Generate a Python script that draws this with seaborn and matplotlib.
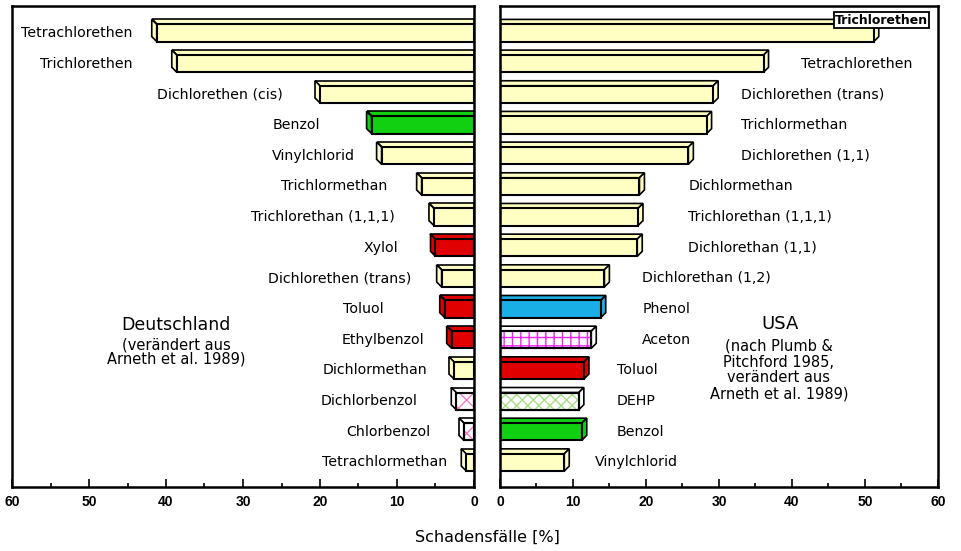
import matplotlib
matplotlib.use("Agg")
import matplotlib.pyplot as plt
from matplotlib.patches import Polygon, Rectangle
from matplotlib.transforms import IdentityTransform
from matplotlib.ticker import MultipleLocator
import seaborn as sns
import pandas as pd

# ---------------- data ----------------
names_de = ["Tetrachlorethen", "Trichlorethen", "Dichlorethen (cis)", "Benzol",
            "Vinylchlorid", "Trichlormethan", "Trichlorethan (1,1,1)", "Xylol",
            "Dichlorethen (trans)", "Toluol", "Ethylbenzol", "Dichlormethan",
            "Dichlorbenzol", "Chlorbenzol", "Tetrachlormethan"]
values_de = [41.2, 38.6, 20.0, 13.3, 12.0, 6.8, 5.2, 5.0, 4.2, 3.8, 2.9, 2.6, 2.3, 1.3, 1.0]
kind_de = ["plain", "plain", "plain", "green", "plain", "plain", "plain", "red",
           "plain", "red", "red", "plain", "pink", "pink", "plain"]

names_us = ["Trichlorethen", "Tetrachlorethen", "Dichlorethen (trans)", "Trichlormethan",
            "Dichlorethen (1,1)", "Dichlormethan", "Trichlorethan (1,1,1)", "Dichlorethan (1,1)",
            "Dichlorethan (1,2)", "Phenol", "Aceton", "Toluol", "DEHP", "Benzol", "Vinylchlorid"]
values_us = [51.2, 36.1, 29.2, 28.3, 25.8, 19.1, 18.9, 18.8, 14.3, 13.8, 12.5, 11.5, 10.8, 11.2, 8.8]
kind_us = ["plain", "plain", "plain", "plain", "plain", "plain", "plain", "plain",
           "plain", "blue", "grid", "red", "dehp", "green", "plain"]

xticks = [0, 10, 20, 30, 40, 50, 60]

# label anchor positions (layout, data units)
labx_de = [44.4, 44.3, 24.8, 20.0, 15.5, 11.2, 10.3, 9.9, 8.1, 11.8, 6.4, 6.1, 7.3, 5.7, 3.5]
labx_us = [45.9, 41.2, 33.0, 33.0, 33.0, 25.8, 25.8, 25.8, 19.5, 19.5, 19.5, 16.0, 16.0, 16.0, 13.0]

# ---------------- style ----------------
sns.set_style("ticks")
plt.rcParams["font.family"] = ["DejaVu Sans"]
plt.rcParams["text.color"] = "black"
plt.rcParams["xtick.color"] = "black"
plt.rcParams["ytick.color"] = "black"
plt.rcParams["xtick.labelcolor"] = "black"

face = {"plain": "#FFFFC4", "green": "#11D011", "red": "#E00000", "blue": "#19AEE6",
        "pink": "#FFFFFF", "grid": "#FFFFFF", "dehp": "#FFFFFF"}
hatch = {"pink": ("xx", "#FF77CC"), "grid": ("++", "#EE22EE"), "dehp": ("xxx", "#A8DC88")}

fig = plt.figure(figsize=(9.62, 5.51), dpi=100)
W, H = 962, 551
ax_l = fig.add_axes([12 / W, 1 - 487 / H, 462 / W, 481 / H])
ax_r = fig.add_axes([500 / W, 1 - 487 / H, 438 / W, 481 / H])

df_de = pd.DataFrame({"name": names_de, "val": values_de, "kind": kind_de})
df_us = pd.DataFrame({"name": names_us, "val": values_us, "kind": kind_us})

BAR_H = 0.56
for ax, df in ((ax_l, df_de), (ax_r, df_us)):
    pal = {n: face[k] for n, k in zip(df["name"], df["kind"])}
    sns.barplot(data=df, x="val", y="name", hue="name", palette=pal, orient="h",
                width=BAR_H, legend=False, ax=ax, edgecolor="black", linewidth=1.5,
                saturation=1)

ax_l.set_xlim(60, 0)
ax_r.set_xlim(0, 60)
for ax in (ax_l, ax_r):
    ax.set_ylim(14.8, -0.88)
    ax.set_xlabel("")
    ax.set_ylabel("")
    ax.set_xticks(xticks)
    ax.xaxis.set_minor_locator(MultipleLocator(5))
    ax.tick_params(axis="x", which="major", direction="in", length=6, width=1.2,
                   labelsize=10, pad=6, colors="black")
    ax.tick_params(axis="x", which="minor", direction="in", length=3, width=1.2)
    for lab in ax.get_xticklabels():
        lab.set_fontweight("bold")
        lab.set_family(["Liberation Sans", "DejaVu Sans"])
    for s in ax.spines.values():
        s.set_visible(True)
        s.set_linewidth(1.8)
        s.set_color("black")

ax_l.yaxis.tick_right()
ax_l.tick_params(axis="y", direction="in", length=5, width=1.2, labelright=False, labelleft=False)
ax_r.tick_params(axis="y", direction="in", length=5, width=1.2, labelleft=False)

fig.canvas.draw()

# 3D caps and hatches derived from the drawn bars
D = 5
for ax, df, side in ((ax_l, df_de, -1), (ax_r, df_us, 1)):
    for p, k in zip(ax.patches[:len(df)], df["kind"]):
        bb = p.get_window_extent()
        x0, x1, y0, y1 = bb.x0, bb.x1, bb.y0, bb.y1
        fc = face[k]
        if side < 0:
            top = [(x0, y1), (x1, y1), (x1, y1 + D), (x0 - D, y1 + D)]
            end = [(x0, y0), (x0, y1), (x0 - D, y1 + D), (x0 - D, y0 + D)]
        else:
            top = [(x0, y1), (x1, y1), (x1 + D, y1 + D), (x0, y1 + D)]
            end = [(x1, y0), (x1, y1), (x1 + D, y1 + D), (x1 + D, y0 + D)]
        for poly in (top, end):
            ax.add_patch(Polygon(poly, closed=True, transform=IdentityTransform(),
                                 facecolor=fc, edgecolor="black", linewidth=1.2,
                                 zorder=0.9, clip_on=True))
        if k in hatch:
            h, hc = hatch[k]
            ax.add_patch(Rectangle((p.get_x(), p.get_y()), p.get_width(), p.get_height(),
                                   fill=False, hatch=h, edgecolor=hc, linewidth=0,
                                   zorder=1.5))
            ax.add_patch(Rectangle((p.get_x(), p.get_y()), p.get_width(), p.get_height(),
                                   fill=False, edgecolor="black", linewidth=1.5, zorder=1.6))

# bar labels
FS = 10.2
for i, (n, lx) in enumerate(zip(names_de, labx_de)):
    ax_l.text(lx, i, n, ha="right", va="center", fontsize=FS)
for i, (n, lx) in enumerate(zip(names_us, labx_us)):
    if i == 0:
        ax_r.text(lx, i - 0.42, n, ha="left", va="center", fontsize=FS - 1.2,
                  fontweight="bold",
                  bbox=dict(boxstyle="square,pad=0.1", fc="white", ec="black", lw=1.3),
                  zorder=5)
    else:
        ax_r.text(lx, i, n, ha="left", va="center", fontsize=FS)

# annotations
fig.text(176 / W, 1 - 325 / H, "Deutschland", ha="center", va="center", fontsize=12.5)
fig.text(176 / W, 1 - 352 / H, "(verändert aus\nArneth et al. 1989)", ha="center",
         va="center", fontsize=10.5, linespacing=0.9)
fig.text(780 / W, 1 - 324 / H, "USA", ha="center", va="center", fontsize=13)
fig.text(779 / W, 1 - 370 / H, "(nach Plumb &\nPitchford 1985,\nverändert aus\nArneth et al. 1989)",
         ha="center", va="center", fontsize=10.5, linespacing=1.08)
fig.text(487 / W, 1 - 537 / H, "Schadensfälle [%]", ha="center", va="center", fontsize=11.5)

fig.savefig("out.png", dpi=100, facecolor="white")
